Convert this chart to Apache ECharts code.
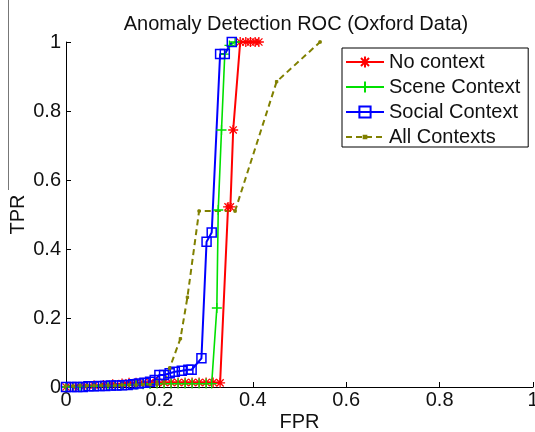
<!DOCTYPE html>
<html>
<head>
<meta charset="utf-8">
<script src="https://cdn.jsdelivr.net/npm/echarts@6/dist/echarts.min.js"></script>
<style>
html,body{margin:0;padding:0;background:#fff;}
#chart{width:535px;height:432px;}
</style>
</head>
<body>
<div id="chart"></div>
<script>
// ---- data ----
var seriesNames = ['No context', 'Scene Context', 'Social Context', 'All Contexts'];
var xTicks = [0, 0.2, 0.4, 0.6, 0.8, 1];
var yTicks = [0, 0.2, 0.4, 0.6, 0.8, 1];

var noCtxFPR = [0, 0.02, 0.04, 0.06, 0.08, 0.10, 0.12, 0.135, 0.15, 0.165, 0.18, 0.195, 0.21, 0.225, 0.24, 0.255, 0.27, 0.285, 0.30, 0.315, 0.33, 0.347, 0.352, 0.358, 0.373, 0.385, 0.395, 0.405, 0.413];
var noCtxTPR = [0, 0, 0.003, 0.005, 0.006, 0.008, 0.01, 0.012, 0.012, 0.012, 0.013, 0.013, 0.013, 0.013, 0.013, 0.013, 0.013, 0.013, 0.013, 0.013, 0.012, 0.522, 0.522, 0.745, 1.0, 1.0, 1.0, 1.0, 1.0];

var sceneFPR = [0, 0.015, 0.03, 0.045, 0.06, 0.075, 0.09, 0.105, 0.12, 0.135, 0.15, 0.165, 0.18, 0.195, 0.21, 0.225, 0.24, 0.255, 0.27, 0.285, 0.30, 0.312, 0.323, 0.326, 0.333, 0.34, 0.35, 0.362];
var sceneTPR = [0, 0, 0, 0.002, 0.002, 0.003, 0.003, 0.004, 0.005, 0.006, 0.007, 0.008, 0.009, 0.01, 0.01, 0.01, 0.01, 0.01, 0.01, 0.01, 0.01, 0.01, 0.229, 0.513, 0.745, 0.965, 0.99, 1.0];

var socialFPR = [0, 0.012, 0.024, 0.036, 0.048, 0.06, 0.072, 0.084, 0.096, 0.108, 0.12, 0.132, 0.144, 0.156, 0.168, 0.18, 0.19, 0.2, 0.21, 0.222, 0.233, 0.248, 0.262, 0.269, 0.29, 0.301, 0.312, 0.33, 0.34, 0.355];
var socialTPR = [0, 0, 0, 0, 0.002, 0.002, 0.003, 0.003, 0.004, 0.004, 0.005, 0.006, 0.008, 0.01, 0.012, 0.015, 0.02, 0.035, 0.035, 0.04, 0.044, 0.047, 0.05, 0.05, 0.083, 0.421, 0.448, 0.965, 0.965, 1.0];

var allFPR = [0, 0.015, 0.03, 0.045, 0.06, 0.075, 0.09, 0.105, 0.12, 0.135, 0.15, 0.165, 0.18, 0.195, 0.21, 0.222, 0.245, 0.26, 0.285, 0.362, 0.451, 0.544];
var allTPR = [0.003, 0.003, 0.004, 0.004, 0.004, 0.005, 0.005, 0.005, 0.006, 0.006, 0.006, 0.007, 0.007, 0.008, 0.012, 0.055, 0.14, 0.26, 0.51, 0.51, 0.885, 1.0];

// ---- build ----
function pairs(xs, ys) { return xs.map(function (x, i) { return [x, ys[i]]; }); }

var FONT = 'Liberation Sans, Arial, sans-serif';
var TXT = '#111';
var asterisk = 'path://M0,-5L0,5M-5,0L5,0M-3.6,-3.6L3.6,3.6M-3.6,3.6L3.6,-3.6';
var plus = 'path://M0,-5L0,5M-5,0L5,0';
// small dot inside a larger (invisible) box so the legend icon stays small
var dot = 'path://M-5,-5L-5,-5M5,5L5,5M-1.2,-1.2L1.2,-1.2L1.2,1.2L-1.2,1.2Z';

var chart = echarts.init(document.getElementById('chart'), null, {renderer: 'canvas'});
chart.setOption({
  animation: false,
  backgroundColor: '#fff',
  title: {
    text: 'Anomaly Detection ROC (Oxford Data)',
    left: 291, top: 9, textAlign: 'center',
    textStyle: {fontFamily: FONT, fontSize: 20, fontWeight: 'normal', color: TXT}
  },
  legend: {
    orient: 'vertical',
    left: 342, top: 48,
    padding: [4, 8, 0, 3],
    itemWidth: 38, itemHeight: 14, itemGap: 5,
    backgroundColor: '#fff',
    borderColor: '#000', borderWidth: 1, borderRadius: 0,
    textStyle: {fontFamily: FONT, fontSize: 20, color: TXT, lineHeight: 20},
    data: seriesNames
  },
  grid: {left: 66, right: 2, top: 42, bottom: 45, containLabel: false, outerBoundsMode: 'none'},
  xAxis: {
    type: 'value', min: 0, max: 1, interval: 0.2,
    name: 'FPR', nameLocation: 'middle', nameGap: 25, nameMoveOverlap: false,
    nameTextStyle: {fontFamily: FONT, fontSize: 20, color: TXT},
    axisLine: {show: true, lineStyle: {color: '#000', width: 1}},
    axisTick: {show: true, inside: true, length: 5, lineStyle: {color: '#000'}},
    axisLabel: {fontFamily: FONT, fontSize: 20, color: TXT, margin: 3,
      formatter: function (v) { return String(+v.toFixed(1)); }},
    splitLine: {show: false}
  },
  yAxis: {
    type: 'value', min: 0, max: 1, interval: 0.2,
    name: 'TPR', nameLocation: 'middle', nameGap: 38, nameRotate: 90, nameMoveOverlap: false,
    nameTextStyle: {fontFamily: FONT, fontSize: 20, color: TXT},
    axisLine: {show: true, lineStyle: {color: '#000', width: 1}},
    axisTick: {show: true, inside: true, length: 5, lineStyle: {color: '#000'}},
    axisLabel: {fontFamily: FONT, fontSize: 20, color: TXT, margin: 5,
      formatter: function (v) { return String(+v.toFixed(1)); }},
    splitLine: {show: false}
  },
  graphic: [{
    type: 'line', shape: {x1: 8.5, y1: 0, x2: 8.5, y2: 190},
    style: {stroke: '#777', lineWidth: 1}
  }],
  series: [
    {
      name: seriesNames[0], type: 'line', clip: false,
      data: pairs(noCtxFPR, noCtxTPR),
      symbol: asterisk, symbolSize: 10,
      lineStyle: {color: '#ff0000', width: 2},
      itemStyle: {color: '#ff0000', borderColor: '#ff0000', borderWidth: 1.3}
    },
    {
      name: seriesNames[1], type: 'line', clip: false,
      data: pairs(sceneFPR, sceneTPR),
      symbol: plus, symbolSize: 10,
      lineStyle: {color: '#00e000', width: 1.6},
      itemStyle: {color: '#00e000', borderColor: '#00e000', borderWidth: 1.3}
    },
    {
      name: seriesNames[2], type: 'line', clip: false,
      data: pairs(socialFPR, socialTPR),
      symbol: 'rect', symbolSize: 9,
      lineStyle: {color: '#0000ff', width: 2},
      itemStyle: {color: 'rgba(255,255,255,0)', borderColor: '#0000ff', borderWidth: 1.5}
    },
    {
      name: seriesNames[3], type: 'line', clip: false,
      data: pairs(allFPR, allTPR),
      symbol: dot, symbolSize: 10,
      lineStyle: {color: '#808000', width: 2, type: [6, 4]},
      itemStyle: {color: '#808000', borderColor: '#808000', borderWidth: 1}
    }
  ]
});
</script>
</body>
</html>
